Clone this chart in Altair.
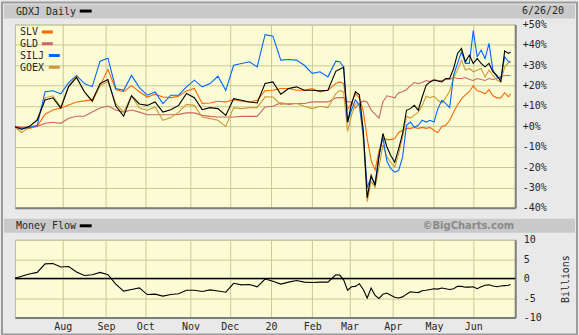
import altair as alt
import pandas as pd

# ---------------- data ----------------
HOLIDAYS = ["2019-07-04", "2019-09-02", "2019-11-28", "2019-12-25", "2020-01-01",
            "2020-01-20", "2020-02-17", "2020-04-10", "2020-05-25"]
TRADING_DAYS = pd.bdate_range("2019-06-26", "2020-06-26")
TRADING_DAYS = TRADING_DAYS[~TRADING_DAYS.isin(pd.to_datetime(HOLIDAYS))]

# trading-day index of each sampled value
day_index = list(range(0, 166, 4)) + list(range(166, 254, 2)) + [253]

gdxj = [0, -1.5, 0, 3, 13, 14, 9, 19.5, 24, 17, 12.5, 21, 23, 10, 5, 15, 11, 10.3, 12, 7,
        8.2, 10.3, 16.1, 14.1, 8.2, 9.2, 8.7, 5.4, 13.6, 12.8, 12, 11.5, 21, 21.8, 15.8, 18.6,
        19.4, 17.7, 17.7, 17.4, 17.7, 27,
        28, 29, 2, 11, 17, 15.5, -2, -35, -24, -29, -15, -3.5, -10,
        -14.3, -17.6, -11, -3.6, 7.9, 8.7, 10.3, 7.9, 14.4, 20.2, 21.8, 22.7, 22.3, 21.8, 23.5,
        23.5, 28.4, 35.8, 38.3, 31.7, 35, 30.9, 33.3, 30.9, 29.2, 30.9, 26.8, 25, 22, 37, 35.8, 36.6]

silj = [0, -1, -0.5, 0.5, 17, 17.5, 16, 21.5, 25, 21, 19.5, 32, 33.5, 18.6, 17.7, 25, 19, 15.3,
        16.9, 11.2, 15.3, 15.3, 19.4, 22.7, 19.4, 21, 24.6, 17.7, 30, 30.9, 31.7, 29.2, 45, 44.3,
        32.5, 32.8, 32.5, 30, 26, 26.8, 24.3, 32,
        31.7, 29.2, 2, 8, 13, 10.5, -4, -30, -25, -28, -14, -5.5, -17,
        -20.8, -22.5, -21.7, -15.1, 0.5, 2.1, -0.3, 0.5, 3, 2.1, 3, 2.1, 8.7, 12.8, 11.2, 9.2,
        25.1, 30.9, 36.6, 30.9, 30.9, 47, 34.2, 37.4, 33.3, 40.7, 27.6, 24.3, 23.5, 34.2, 31.7, 31.7]

goex = [0, -3, -0.5, 3.5, 14, 15, 9.5, 20, 24.5, 17, 12, 20, 22, 11, 7, 15, 9, 7.9, 9.5, 3,
        4.3, 7, 10.8, 10.3, 4.6, 3.8, 3, 0, 9.2, 8.7, 9.2, 9.2, 14.5, 14.4, 10.8, 11.2, 11.2,
        9.9, 8.7, 9.9, 9.2, 16,
        17.7, 16.9, -2.5, 5.4, 11, 11, -6, -37, -27, -30, -20, -9, -15,
        -17.6, -20, -13.5, -5.3, 4.9, 4.1, 5.4, 7, 10.3, 14.8, 14.1, 14.8, 12.8, 11.5, 14.1,
        17.4, 24, 27.6, 32.5, 27.6, 28.4, 26.8, 27.6, 28.4, 24.3, 27.6, 25.1, 22.7, 21.8, 29.2,
        31.2, 31.7]

slv = [0, -0.5, -1, 0, 6, 8, 9, 10.5, 12, 12.5, 13, 20, 28, 18, 17, 20, 17, 14.4, 15.8, 14.4,
       14.1, 14.8, 17.4, 18.6, 11.2, 11.5, 12.3, 12, 13.1, 12.3, 12, 12.8, 17.5, 17.7, 18.6,
       18.6, 17.7, 17.7, 18.6, 16.9, 17.7, 21,
       21.8, 21, 8.5, 11.2, 16, 14, 7.5, -6, -16.7, -21.5, -12, -5.5, -6.5,
       -6.5, -6, -3, -2, -1, -1, -0.5, -1, -0.5, -1, -0.5, -2, -3, 0, 0.5, 3, 7, 10.5, 13.5,
       15.5, 17, 20, 17.5, 17, 16, 18, 15, 14, 14, 16.5, 14.5, 16]

gld = [0, -0.5, -0.5, 0, 1.5, 2, 1.5, 4, 5, 5, 7, 9, 10, 8, 7, 8, 7, 5.7, 5.7, 5.7, 5.7, 5.9,
       6.6, 6.6, 5.4, 4.9, 4.6, 4.6, 4.6, 4.9, 4.9, 4.9, 9.5, 9.9, 11.5, 10.8, 11.2, 11.2, 12,
       12, 12, 14,
       14.1, 14.1, 12, 12, 9, 11, 12.5, 12, 8, 6, 4, 12, 15,
       14.5, 14, 16.5, 17, 18, 20, 21.5, 21, 21.5, 22.5, 22, 23, 22.5, 22.5, 23, 23, 24, 23.5,
       23.5, 24, 23, 22.5, 23.5, 23, 22.5, 23.5, 23, 23.5, 24.5, 25, 25, 25]

money_flow = [0, 0.6, 1.2, 1.6, 3.8, 3.9, 3.0, 3.1, 1.7, 0.8, 1.0, 1.6, 1.0, -1.4, -3.2, -2.8,
              -2.4, -4.1, -4.0, -4.5, -4.1, -3.9, -3.0, -3.0, -3.3, -2.9, -3.2, -3.5, -1.2, -1.6,
              -1.5, -2.1, -0.1, -0.7, -1.4, -0.9, -0.5, -0.9, -1.0, -0.9, -0.9, 1.0,
              0.9, -0.3, -3.0, -2.1, -2.0, -1.3, -2.8, -5.0, -2.4, -4.3, -5.1, -4.0, -3.7,
              -4.3, -4.8, -5.0, -4.7, -4.0, -3.4, -3.5, -3.6, -3.1, -3.0, -2.8, -2.6, -2.7, -2.4,
              -2.6, -2.8, -2.6, -2.0, -2.0, -2.2, -2.2, -2.1, -2.6, -2.1, -1.7, -1.6, -1.9, -2.1,
              -1.9, -1.8, -1.7, -1.5]

SERIES = {"SLV": slv, "GLD": gld, "SILJ": silj, "GOEX": goex, "GDXJ": gdxj}
for name, vals in list(SERIES.items()) + [("MF", money_flow)]:
    assert len(vals) == len(day_index), (name, len(vals), len(day_index))

COLORS = {"GDXJ": "#000000", "SLV": "#ff6600", "GLD": "#cc6666",
          "SILJ": "#0066ff", "GOEX": "#cc9933"}
LEGEND = ["SLV", "GLD", "SILJ", "GOEX"]
DRAW_ORDER = ["SLV", "GLD", "GOEX", "SILJ", "GDXJ"]

month_start = [i for i in range(1, len(TRADING_DAYS))
               if TRADING_DAYS[i].month != TRADING_DAYS[i - 1].month][1:]
month_label = ["20" if TRADING_DAYS[i].month == 1 else TRADING_DAYS[i].strftime("%b")
               for i in month_start]
last_date = f"{TRADING_DAYS[-1].month}/{TRADING_DAYS[-1].day}/{TRADING_DAYS[-1].strftime('%y')}"

pct_ticks = list(range(-40, 51, 10))
mf_ticks = [-10, -5, 0, 5, 10]

# ---------------- styling ----------------
FONT = "DejaVu Sans Mono"
GRID = "#c8c896"
EDGE = "#7d7d7d"
TXT = "#262626"
BAND = "#c9c9c9"
W, H1, H2 = 502, 184, 78

xscale = alt.Scale(domain=[0.66, 255.36], nice=False, zero=False)
one = pd.DataFrame({"a": [0]})

label_expr_x = ("[" + ",".join(f"'{m}'" for m in month_label) + "][indexof(["
                + ",".join(str(i) for i in month_start) + "], datum.value)]")


def text(t, x, y, align="left", color=TXT, font=FONT, size=10, weight="normal"):
    return alt.Chart(one).mark_text(text=t, align=align, baseline="middle", font=font,
                                    fontSize=size, fontWeight=weight, color=color).encode(
        x=alt.value(x), y=alt.value(y))


def swatch(color, x1, x2, y):
    return alt.Chart(one).mark_rule(color=color, strokeWidth=3).encode(
        x=alt.value(x1), x2=alt.value(x2), y=alt.value(y))


def band(y1, y2):
    return alt.Chart(one).mark_rect(color=BAND).encode(
        x=alt.value(-11), x2=alt.value(562), y=alt.value(y1), y2=alt.value(y2))


# ---------------- top panel ----------------
rows = []
for name, vals in SERIES.items():
    for t, v in zip(day_index, vals):
        rows.append({"series": name, "t": t, "v": v})
df = pd.DataFrame(rows)

X_top = alt.X("t:Q", scale=xscale, title=None,
              axis=alt.Axis(values=month_start, labels=False, ticks=False, grid=True,
                            gridColor=GRID, domainColor=EDGE, domainWidth=2))
Y_top = alt.Y("v:Q", scale=alt.Scale(domain=[-40, 50], nice=False, zero=False), title=None,
              axis=alt.Axis(orient="right", values=pct_ticks, ticks=False, labelPadding=7,
                            labelExpr="(datum.value < 0 ? '-' : '+') + abs(datum.value) + '%'",
                            labelFont=FONT, labelFontSize=10, labelColor=TXT,
                            gridColor=GRID, domainColor=EDGE, domainWidth=2))

top_layers = [
    band(-20, -6),
    text("GDXJ Daily", 1, -13),
    swatch("#000000", 65, 77, -13.5),
    text(last_date, 551, -13.5, align="right"),
    alt.Chart(one).mark_rect(filled=False, color="#9c9c9c", strokeWidth=2).encode(
        x=alt.value(-13), x2=alt.value(564), y=alt.value(-22), y2=alt.value(311)),
]
for name in DRAW_ORDER:
    top_layers.append(
        alt.Chart(df[df.series == name]).mark_line(color=COLORS[name], strokeWidth=1.1,
                                                   clip=True).encode(x=X_top, y=Y_top))
for i, name in enumerate(LEGEND):
    y = 8 + i * 11.8
    top_layers.append(text(name, 5, y))
    x1 = 27 if len(name) == 3 else 34
    top_layers.append(swatch(COLORS[name], x1, x1 + 11, y - 0.5))

top = alt.layer(*top_layers).properties(width=W, height=H1)

# ---------------- bottom panel ----------------
mf = pd.DataFrame({"t": day_index, "mf": money_flow})
X_bot = alt.X("t:Q", scale=xscale, title=None,
              axis=alt.Axis(values=month_start, labelExpr=label_expr_x, ticks=False,
                            labelPadding=4, labelFont=FONT, labelFontSize=10, labelColor=TXT,
                            grid=True, gridColor=GRID, domainColor=EDGE, domainWidth=2,
                            labelFlush=False, labelOverlap=False))
Y_bot = alt.Y("mf:Q", scale=alt.Scale(domain=[-10, 10], nice=False, zero=False),
              title="Billions",
              axis=alt.Axis(orient="right", values=mf_ticks, ticks=False, labelPadding=8,
                            labelExpr="(datum.value < 0 ? '-' : '') + abs(datum.value)",
                            labelFont=FONT, labelFontSize=10, labelColor=TXT,
                            gridColor=GRID, domainColor=EDGE, domainWidth=2,
                            titleFont=FONT, titleFontSize=10, titleFontWeight="normal",
                            titleColor=TXT, titleAngle=270, titleX=50, titleY=39,
                            titleAlign="center", titleBaseline="middle"))

zero = pd.DataFrame({"mf": [0]})
bottom = alt.layer(
    band(-21, -7),
    text("Money Flow", 1, -13.5),
    swatch("#000000", 65, 77, -14),
    text("\u00a9BigCharts.com", 501, -13.5, align="right", color="#8a8a8a",
         font="DejaVu Sans", size=10, weight="bold"),
    alt.Chart(zero).mark_rule(color="#000000", strokeWidth=1.5).encode(y=Y_bot),
    alt.Chart(mf).mark_line(color="#000000", strokeWidth=1.1, clip=True).encode(x=X_bot, y=Y_bot),
).properties(width=W, height=H2)

chart = alt.vconcat(top, bottom, spacing=32, bounds="flush").properties(
    padding={"left": 0, "top": 0, "right": 0, "bottom": 0},
    background="#e9e9e9",
).configure(font=FONT).configure_view(fill="#fcfcd4", stroke="#b8b8b8", strokeWidth=1)

chart.save("out.html", embed_options={"renderer": "svg", "actions": False})
